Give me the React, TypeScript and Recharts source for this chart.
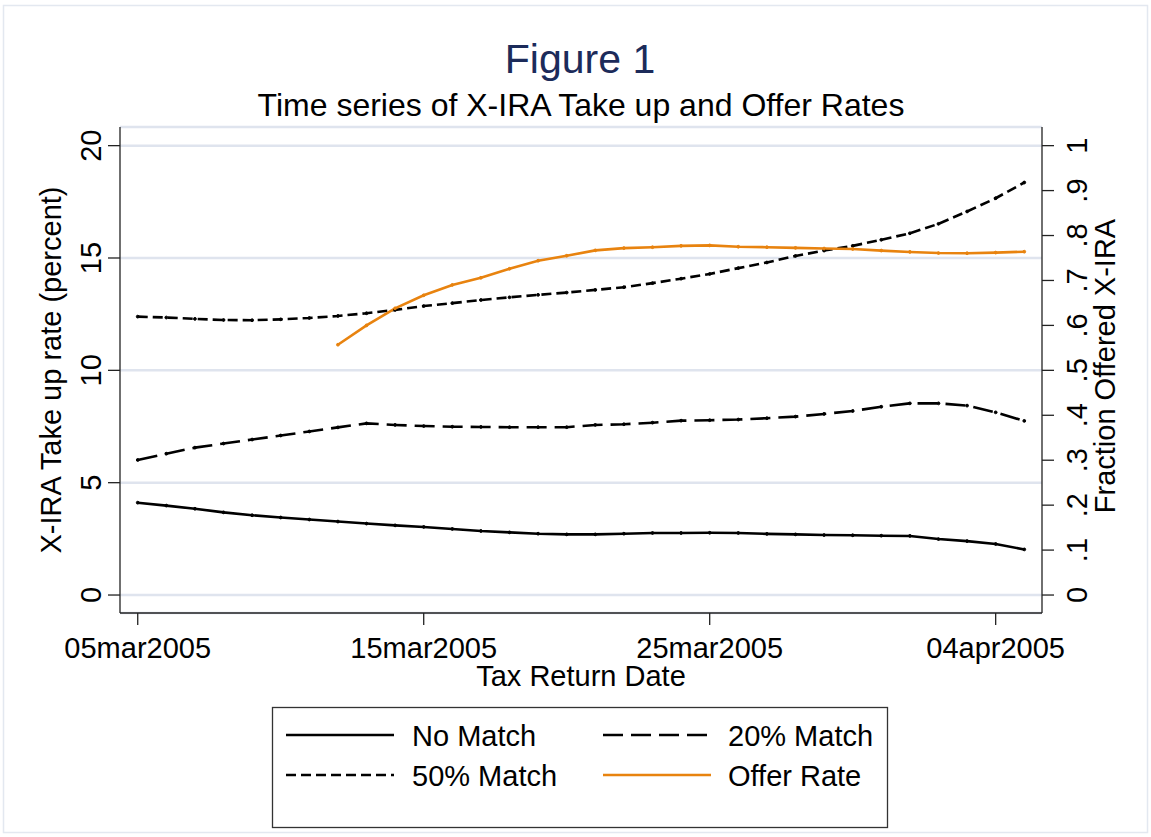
import React from "react";
import { LineChart, Line, XAxis, YAxis, CartesianGrid } from "recharts";

// ---- data ----
const days = [0, 1, 2, 3, 4, 5, 6, 7, 8, 9, 10, 11, 12, 13, 14, 15, 16, 17, 18, 19, 20, 21, 22, 23, 24, 25, 26, 27, 28, 29, 30, 31];
const noMatch = [4.11, 3.98, 3.84, 3.68, 3.55, 3.45, 3.36, 3.27, 3.18, 3.10, 3.03, 2.94, 2.85, 2.79, 2.73, 2.70, 2.70, 2.73, 2.76, 2.76, 2.77, 2.76, 2.72, 2.70, 2.67, 2.66, 2.64, 2.63, 2.49, 2.40, 2.27, 2.03];
const match20 = [6.01, 6.29, 6.56, 6.74, 6.92, 7.10, 7.28, 7.46, 7.64, 7.57, 7.52, 7.49, 7.48, 7.47, 7.47, 7.47, 7.57, 7.60, 7.67, 7.76, 7.78, 7.81, 7.87, 7.94, 8.06, 8.19, 8.38, 8.53, 8.53, 8.43, 8.13, 7.75];
const match50 = [12.39, 12.35, 12.29, 12.24, 12.23, 12.27, 12.33, 12.42, 12.54, 12.69, 12.86, 12.99, 13.13, 13.25, 13.36, 13.46, 13.58, 13.70, 13.88, 14.08, 14.29, 14.55, 14.80, 15.09, 15.33, 15.54, 15.81, 16.10, 16.52, 17.07, 17.66, 18.36];
const offerRate = [null, null, null, null, null, null, null, 0.557, 0.600, 0.638, 0.667, 0.690, 0.706, 0.726, 0.744, 0.755, 0.767, 0.772, 0.774, 0.777, 0.778, 0.775, 0.774, 0.7725, 0.771, 0.770, 0.7665, 0.7635, 0.761, 0.7605, 0.762, 0.764];

const xTicks = [0, 10, 20, 30];
const xTickLabels = ["05mar2005", "15mar2005", "25mar2005", "04apr2005"];
const leftTicks = [0, 5, 10, 15, 20];
const rightTicks = [0, 0.1, 0.2, 0.3, 0.4, 0.5, 0.6, 0.7, 0.8, 0.9, 1];
const rightTickLabels = ["0", ".1", ".2", ".3", ".4", ".5", ".6", ".7", ".8", ".9", "1"];

const seriesNames = ["No Match", "20% Match", "50% Match", "Offer Rate"];

const FONT = '"Liberation Sans", Arial, Helvetica, sans-serif';
const ORANGE = "#e8830f";

const series = [
  { key: "noMatch", name: seriesNames[0], color: "#000", dash: undefined as string | undefined, axis: "left" },
  { key: "match20", name: seriesNames[1], color: "#000", dash: "20 8", axis: "left" },
  { key: "match50", name: seriesNames[2], color: "#000", dash: "10 5", axis: "left" },
  { key: "offerRate", name: seriesNames[3], color: ORANGE, dash: undefined as string | undefined, axis: "right" },
];

const data = days.map((d, i) => ({
  day: d,
  noMatch: noMatch[i],
  match20: match20[i],
  match50: match50[i],
  offerRate: offerRate[i],
}));

const W = 1151;
const H = 837;

const LeftTick = (props: any) => {
  const { x, y, payload } = props;
  const bx = x;
  return (
    <text x={bx} y={y} transform={`rotate(-90 ${bx} ${y})`} textAnchor="middle" fontSize={29} fill="#000" fontFamily={FONT}>
      {String(payload.value)}
    </text>
  );
};

const RightTick = (props: any) => {
  const { x, y, payload } = props;
  let idx = 0;
  rightTicks.forEach((t, i) => {
    if (Math.abs(t - payload.value) < 1e-6) idx = i;
  });
  return (
    <text x={x} y={y} transform={`rotate(-90 ${x} ${y})`} textAnchor="middle" fontSize={29} fill="#000" fontFamily={FONT}>
      {rightTickLabels[idx]}
    </text>
  );
};

const xFmt = (v: number) => {
  const i = xTicks.indexOf(v);
  return i >= 0 ? xTickLabels[i] : "";
};

export default function App() {
  const legendRows = [
    [series[0], series[1]],
    [series[2], series[3]],
  ];
  return (
    <div style={{ position: "absolute", left: 0, top: 0, width: W, height: H, background: "#fff", fontFamily: FONT }}>
      <LineChart width={W} height={H} data={data} margin={{ top: 127, right: 0, left: 0, bottom: 164 }}>
        <CartesianGrid yAxisId="left" horizontal={true} vertical={false} stroke="#dfe4ee" strokeWidth={2.5} />
        <XAxis
          dataKey="day"
          type="number"
          domain={[-0.62, 31.62]}
          allowDataOverflow
          ticks={xTicks}
          interval={0}
          tickFormatter={xFmt}
          tickSize={12}
          tickMargin={12}
          height={60}
          stroke="#222"
          strokeWidth={1.3}
          tick={{ fontSize: 29, fill: "#000", fontFamily: FONT }}
          tickLine={{ stroke: "#222", strokeWidth: 1.3 }}
        />
        <YAxis
          yAxisId="left"
          orientation="left"
          width={120}
          domain={[-0.8, 20.83]}
          allowDataOverflow
          ticks={leftTicks}
          interval={0}
          tickSize={12}
          tickMargin={7}
          stroke="#222"
          strokeWidth={1.3}
          tick={<LeftTick />}
          tickLine={{ stroke: "#222", strokeWidth: 1.3 }}
        />
        <YAxis
          yAxisId="right"
          orientation="right"
          width={109}
          domain={[-0.04, 1.0415]}
          allowDataOverflow
          ticks={rightTicks}
          interval={0}
          tickSize={12}
          tickMargin={33}
          stroke="#222"
          strokeWidth={1.3}
          tick={<RightTick />}
          tickLine={{ stroke: "#222", strokeWidth: 1.3 }}
        />
        {series.map((s) => (
          <Line
            key={s.key}
            yAxisId={s.axis}
            dataKey={s.key}
            name={s.name}
            type="linear"
            stroke={s.color}
            strokeWidth={2.6}
            strokeDasharray={s.dash}
            dot={{ r: 1.4, fill: s.color, stroke: s.color, strokeWidth: 1 }}
            isAnimationActive={false}
            connectNulls={false}
          />
        ))}
      </LineChart>
      <svg
        width={W}
        height={H}
        style={{ position: "absolute", left: 0, top: 0, pointerEvents: "none" }}
        fontFamily={FONT}
      >
        <rect x={3.5} y={5.5} width={1144} height={827} fill="none" stroke="#e3e8f0" strokeWidth={1.5} />
        <text x={580} y={73} textAnchor="middle" fontSize={41} fill="#1c2b5a">Figure 1</text>
        <text x={581} y={116} textAnchor="middle" fontSize={32} fill="#000">Time series of X-IRA Take up and Offer Rates</text>
        <text x={581} y={686} textAnchor="middle" fontSize={29} fill="#000">Tax Return Date</text>
        <text x={61} y={370} transform="rotate(-90 61 370)" textAnchor="middle" fontSize={29} fill="#000">X-IRA Take up rate (percent)</text>
        <text x={1115} y={366} transform="rotate(-90 1115 366)" textAnchor="middle" fontSize={29} fill="#000">Fraction Offered X-IRA</text>
        <rect x={272.5} y={707.5} width={615} height={120} fill="#fff" stroke="#333" strokeWidth={1.3} />
        {legendRows.map((row, ri) =>
          row.map((s, ci) => {
            const cy = 735 + ri * 40;
            const lx = ci === 0 ? 286 : 603;
            const tx = ci === 0 ? 412 : 728;
            return (
              <g key={s.key}>
                <line x1={lx} x2={lx + 108} y1={cy} y2={cy} stroke={s.color} strokeWidth={2.6} strokeDasharray={s.dash} />
                <text x={tx} y={cy + 10.5} fontSize={29} fill="#000">{s.name}</text>
              </g>
            );
          })
        )}
      </svg>
    </div>
  );
}
